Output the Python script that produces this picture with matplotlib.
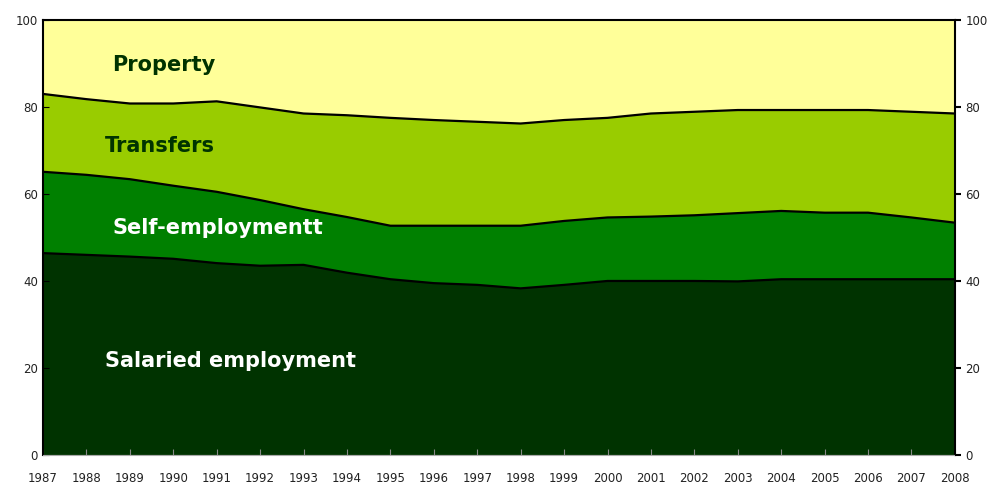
import numpy as np
import matplotlib.pyplot as plt

years = list(range(1987, 2009))
# shares of household income (%)
salaried = [46.4, 46.0, 45.6, 45.1, 44.1, 43.5, 43.7, 41.9, 40.4, 39.5, 39.1,
            38.3, 39.1, 40.0, 40.0, 40.0, 39.9, 40.4, 40.4, 40.4, 40.4, 40.4]
self_top = [65.1, 64.4, 63.4, 61.9, 60.5, 58.6, 56.5, 54.7, 52.7, 52.7, 52.7,
            52.7, 53.8, 54.6, 54.8, 55.1, 55.6, 56.1, 55.7, 55.7, 54.6, 53.4]
transfers_top = [83.0, 81.8, 80.8, 80.8, 81.3, 79.9, 78.5, 78.1, 77.5, 77.0, 76.6,
                 76.2, 77.0, 77.5, 78.5, 78.9, 79.3, 79.3, 79.3, 79.3, 78.9, 78.5]

salaried = np.array(salaried)
self_emp = np.array(self_top) - salaried
transfers = np.array(transfers_top) - np.array(self_top)
prop = 100 - np.array(transfers_top)

colors = ['#003300', '#008000', '#99CC00', '#FFFF99']

fig = plt.figure(figsize=(9.88, 4.84), dpi=100)
ax = fig.add_axes([0.0435, 0.06, 0.923, 0.8987])
ax.stackplot(years, salaried, self_emp, transfers, prop, colors=colors, linewidth=0)

cum = np.cumsum([salaried, self_emp, transfers], axis=0)
for c in cum:
    ax.plot(years, c, color='black', lw=1.6)

ax.set_xlim(1987, 2008)
ax.set_ylim(0, 100)
ax.set_xticks(years)
ax.set_xticklabels([str(y) for y in years], fontsize=8.5, color='#222222')
ax.set_yticks(range(0, 101, 20))
ax.tick_params(axis='y', direction='in', length=4, labelsize=8.5, labelcolor='#222222')
ax.tick_params(axis='x', direction='in', length=4, color='#888888', pad=12)
for s in ['left', 'top', 'right']:
    ax.spines[s].set_linewidth(1.5)
ax.spines['bottom'].set_color('#aaaaaa')

ax2 = ax.twinx()
ax2.set_ylim(0, 100)
ax2.set_yticks(range(0, 101, 20))
ax2.tick_params(axis='y', direction='out', length=4, width=1.5, labelsize=8.5, labelcolor='#222222')
for s in ax2.spines.values():
    s.set_visible(False)

font = dict(fontsize=15, fontweight='bold', family='DejaVu Sans')
ax.text(1988.6, 89.7, 'Property', color='#003300', va='center', **font)
ax.text(1988.43, 71.0, 'Transfers', color='#003300', va='center', **font)
ax.text(1988.6, 52.2, 'Self-employmentt', color='white', va='center', **font)
ax.text(1988.43, 21.6, 'Salaried employment', color='white', va='center', **font)

fig.savefig('out.png', dpi=100)
